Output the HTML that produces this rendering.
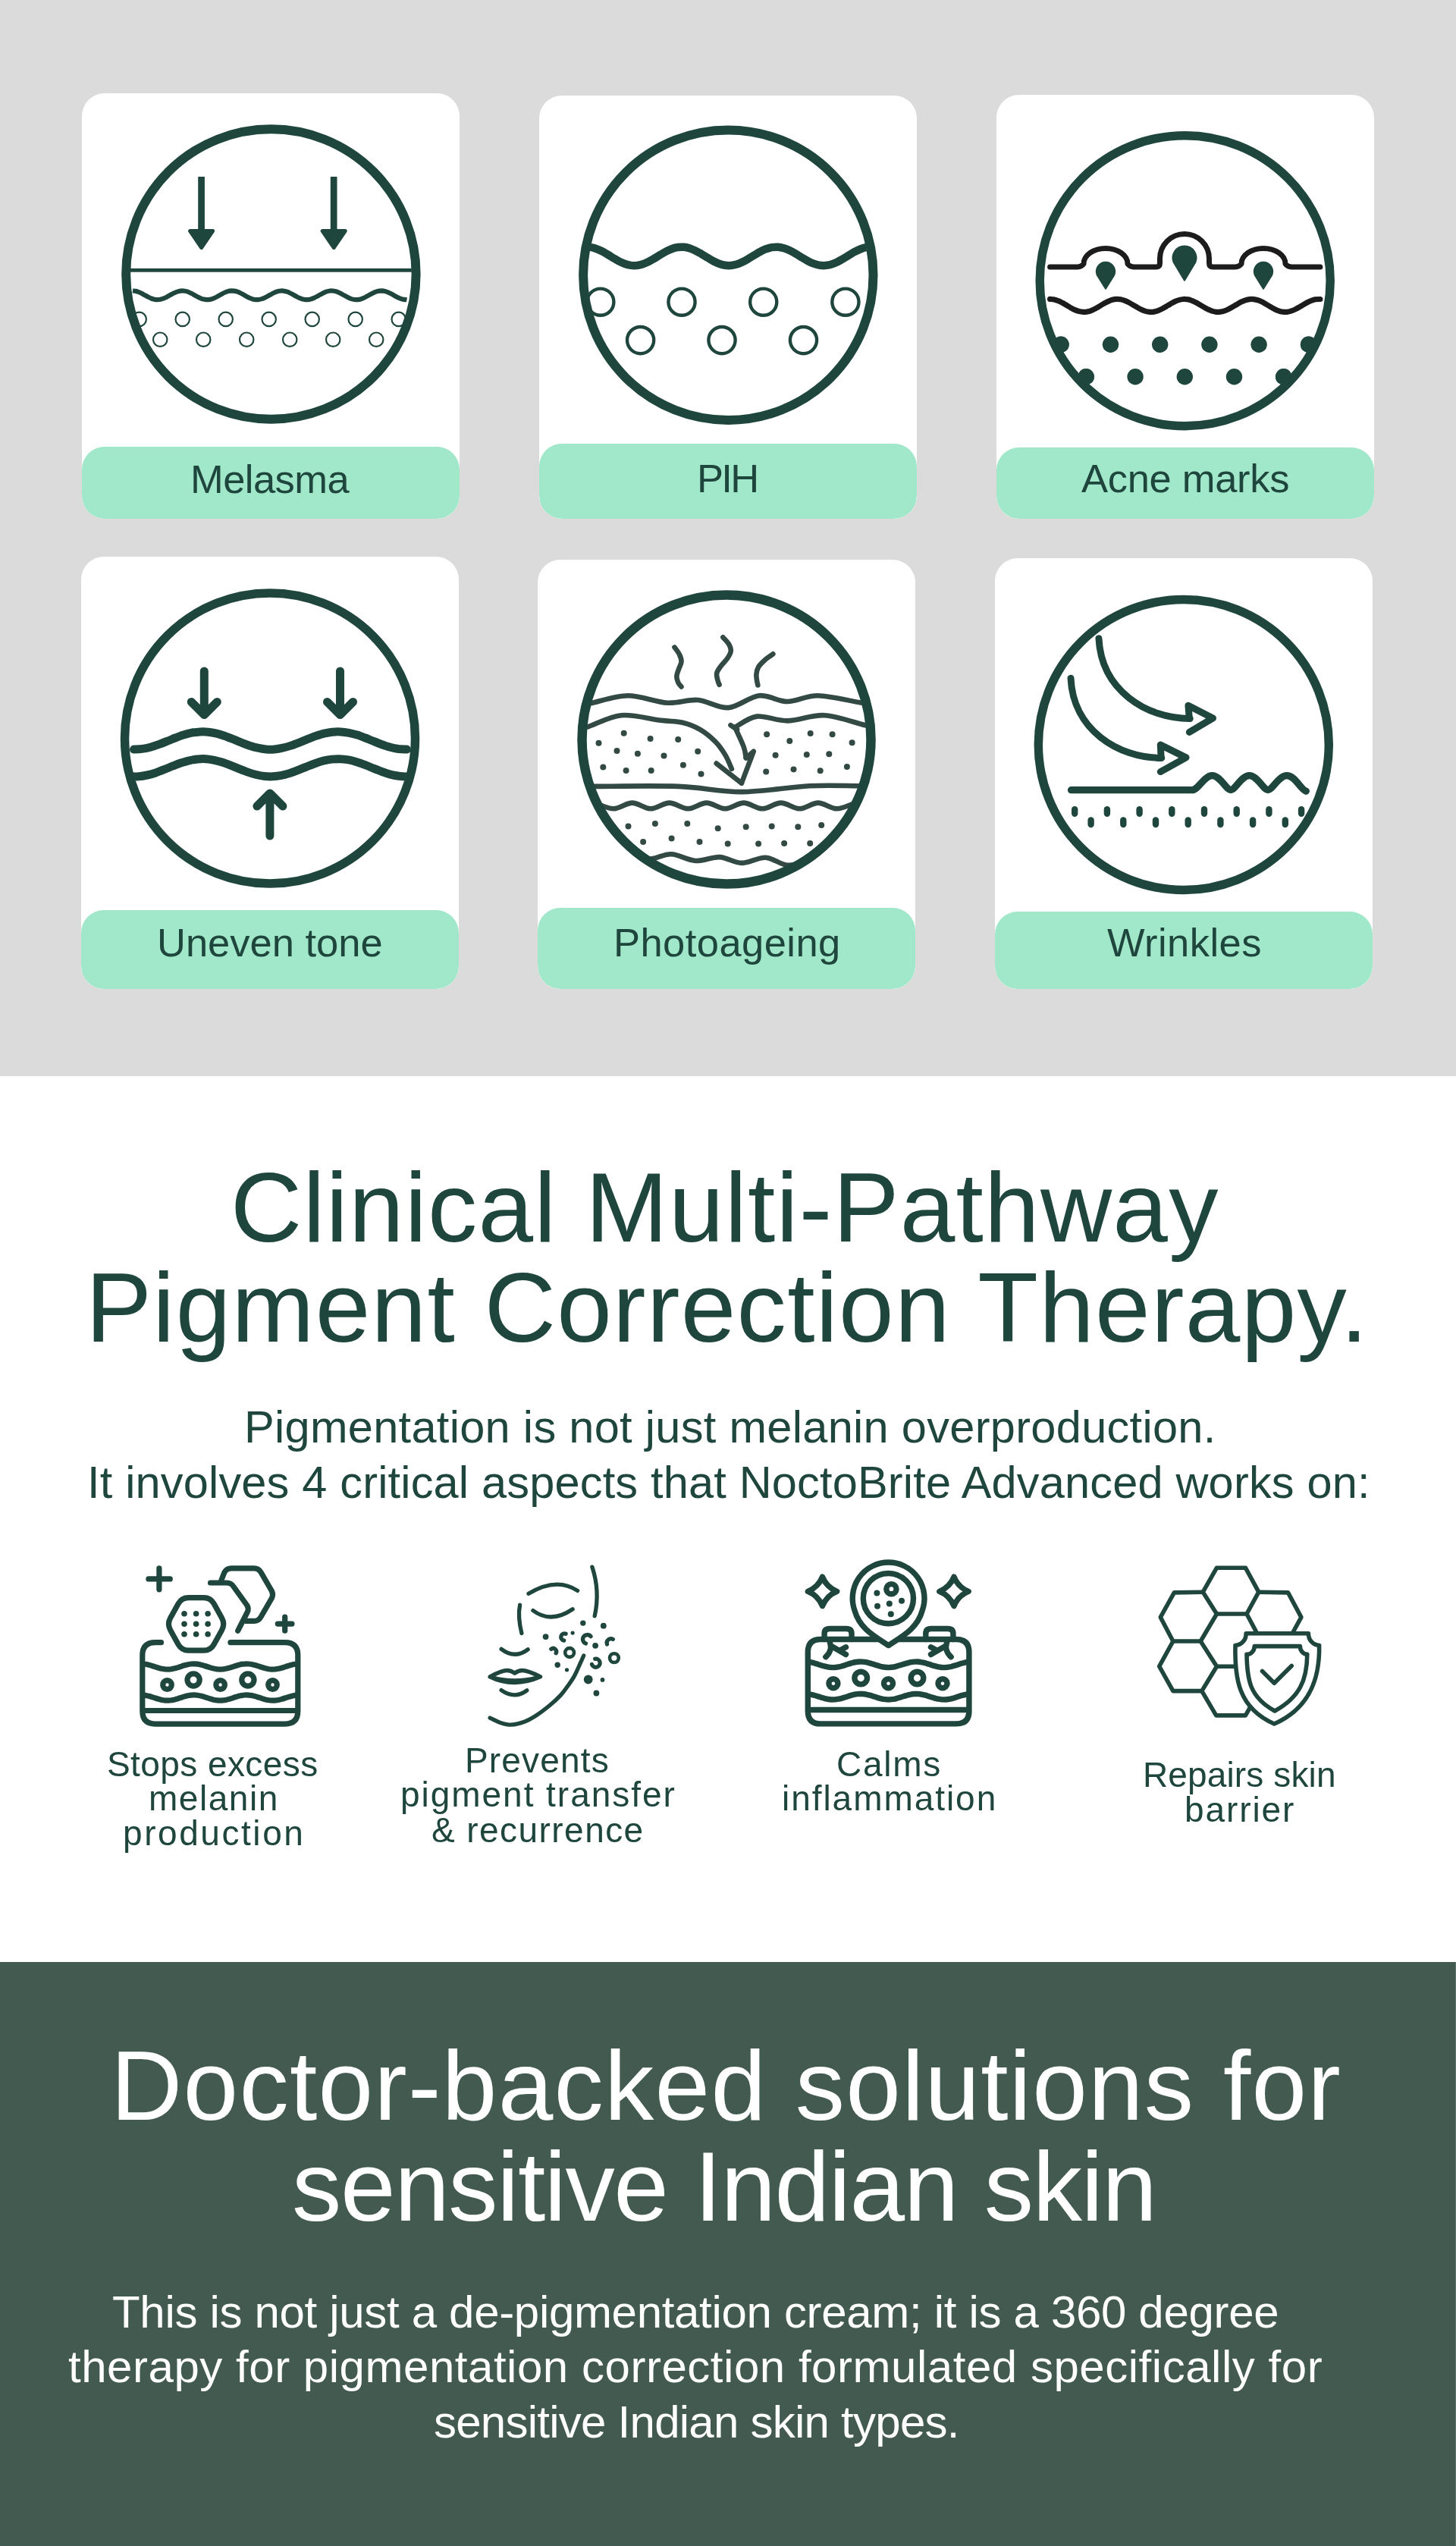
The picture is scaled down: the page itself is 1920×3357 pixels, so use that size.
<!DOCTYPE html>
<html><head><meta charset="utf-8"><style>
html,body{margin:0;padding:0;}
body{width:1920px;height:3357px;position:relative;overflow:hidden;background:#fff;font-family:"Liberation Sans",sans-serif;}
.sec{position:absolute;left:0;width:1920px;}
.card{position:absolute;background:#fff;border-radius:30px;overflow:hidden;}
.lab{position:absolute;left:0;right:0;bottom:0;background:#a1e7c9;border-radius:30px;}
.t{position:absolute;white-space:nowrap;line-height:1;will-change:transform;}
svg{position:absolute;left:0;top:0;}
</style></head><body>

<div class="sec" style="top:0;height:1419px;background:#dbdbdb"></div>
<div class="card" style="left:108px;top:123px;width:498px;height:561px"><div class="lab" style="height:95px"></div></div>
<div class="card" style="left:711px;top:126px;width:498px;height:558px"><div class="lab" style="height:99px"></div></div>
<div class="card" style="left:1314px;top:125px;width:498px;height:559px"><div class="lab" style="height:94px"></div></div>
<div class="card" style="left:107px;top:734px;width:498px;height:570px"><div class="lab" style="height:104px"></div></div>
<div class="card" style="left:709px;top:738px;width:498px;height:566px"><div class="lab" style="height:107px"></div></div>
<div class="card" style="left:1312px;top:736px;width:498px;height:568px"><div class="lab" style="height:102px"></div></div>
<div class="sec" style="top:2587px;height:770px;background:#435a51"></div>
<div class="sec" style="top:2587px;height:770px;left:1919px;width:1px;background:#5f7670"></div>
<div class="t" style="left:251.1px;top:605.6px;font-size:52.5px;letter-spacing:-0.56px;color:#1f463d">Melasma</div>
<div class="t" style="left:918.7px;top:605.1px;font-size:52.5px;letter-spacing:-2.71px;color:#1f463d">PIH</div>
<div class="t" style="left:1426.4px;top:605.2px;font-size:52.5px;letter-spacing:-0.30px;color:#1f463d">Acne marks</div>
<div class="t" style="left:206.8px;top:1217.3px;font-size:52.5px;letter-spacing:-0.01px;color:#1f463d">Uneven tone</div>
<div class="t" style="left:808.5px;top:1217.3px;font-size:52.5px;letter-spacing:0.44px;color:#1f463d">Photoageing</div>
<div class="t" style="left:1459.8px;top:1217.2px;font-size:52.5px;letter-spacing:0.45px;color:#1f463d">Wrinkles</div>
<div class="t" style="left:303.7px;top:1526.6px;font-size:130.5px;letter-spacing:1.24px;color:#1f463d">Clinical Multi-Pathway</div>
<div class="t" style="left:112.5px;top:1659.1px;font-size:130.5px;letter-spacing:1.33px;color:#1f463d">Pigment Correction Therapy.</div>
<div class="t" style="left:322.2px;top:1852.3px;font-size:59.5px;letter-spacing:0.31px;color:#1f463d">Pigmentation is not just melanin overproduction.</div>
<div class="t" style="left:114.7px;top:1925.1px;font-size:59.5px;letter-spacing:0.18px;color:#1f463d">It involves 4 critical aspects that NoctoBrite Advanced works on:</div>
<div class="t" style="left:141.2px;top:2302.5px;font-size:46px;letter-spacing:0.42px;color:#1f463d">Stops excess</div>
<div class="t" style="left:195.8px;top:2348.3px;font-size:46px;letter-spacing:1.53px;color:#1f463d">melanin</div>
<div class="t" style="left:161.7px;top:2393.9px;font-size:46px;letter-spacing:2.56px;color:#1f463d">production</div>
<div class="t" style="left:613.4px;top:2297.6px;font-size:46px;letter-spacing:1.18px;color:#1f463d">Prevents</div>
<div class="t" style="left:527.8px;top:2342.9px;font-size:46px;letter-spacing:1.96px;color:#1f463d">pigment transfer</div>
<div class="t" style="left:569px;top:2389.6px;font-size:46px;letter-spacing:1.44px;color:#1f463d">&amp; recurrence</div>
<div class="t" style="left:1102.7px;top:2302.5px;font-size:46px;letter-spacing:1.73px;color:#1f463d">Calms</div>
<div class="t" style="left:1030.6px;top:2348.3px;font-size:46px;letter-spacing:1.95px;color:#1f463d">inflammation</div>
<div class="t" style="left:1507px;top:2317.4px;font-size:46px;letter-spacing:0.13px;color:#1f463d">Repairs skin</div>
<div class="t" style="left:1562.2px;top:2362.9px;font-size:46px;letter-spacing:1.91px;color:#1f463d">barrier</div>
<div class="t" style="left:145.6px;top:2685.1px;font-size:130.5px;letter-spacing:1.28px;color:#fff">Doctor-backed solutions for</div>
<div class="t" style="left:385.4px;top:2817.6px;font-size:130.5px;letter-spacing:-1.35px;color:#fff">sensitive Indian skin</div>
<div class="t" style="left:147.5px;top:3018.5px;font-size:60px;letter-spacing:-0.32px;color:#fff">This is not just a de-pigmentation cream; it is a 360 degree</div>
<div class="t" style="left:90.2px;top:3091.1px;font-size:60px;letter-spacing:0.53px;color:#fff">therapy for pigmentation correction formulated specifically for</div>
<div class="t" style="left:571.5px;top:3164px;font-size:60px;letter-spacing:-0.75px;color:#fff">sensitive Indian skin types.</div>
<svg width="1920" height="3357" viewBox="0 0 1920 3357">
<clipPath id="cc1"><circle cx="357.4" cy="361.5" r="185.7"/></clipPath><g clip-path="url(#cc1)"><rect x="150" y="353.9" width="420" height="4.8" fill="#1f463d"/><rect x="261.2" y="233" width="8.7" height="72" fill="#1f463d"/><path d="M250.6,304.5 L280.6,304.5 L265.6,326.5 Z" fill="#1f463d" stroke="#1f463d" stroke-width="5" stroke-linecap="round" stroke-linejoin="round"/><rect x="435.8" y="233" width="8.7" height="72" fill="#1f463d"/><path d="M425.2,304.5 L455.2,304.5 L440.2,326.5 Z" fill="#1f463d" stroke="#1f463d" stroke-width="5" stroke-linecap="round" stroke-linejoin="round"/><path d="M175,383.4C175.7,383.5 177.7,383.6 179.1,383.9C180.4,384.2 181.8,384.6 183.1,385.2C184.5,385.7 185.8,386.4 187.2,387.1C188.5,387.8 189.9,388.6 191.2,389.3C192.6,390.1 194,390.9 195.3,391.6C196.7,392.3 198,392.9 199.4,393.5C200.7,394 202.1,394.4 203.4,394.7C204.8,395 206.1,395.2 207.5,395.2C208.8,395.2 210.2,395.1 211.6,394.8C212.9,394.5 214.3,394.1 215.6,393.5C217,393 218.3,392.4 219.7,391.7C221,391 222.4,390.2 223.7,389.4C225.1,388.7 226.4,387.9 227.8,387.2C229.2,386.5 230.5,385.8 231.9,385.3C233.2,384.7 234.6,384.2 235.9,383.9C237.3,383.6 238.6,383.4 240,383.4C241.3,383.4 242.7,383.5 244.1,383.8C245.4,384 246.8,384.4 248.1,384.9C249.5,385.4 250.8,386.1 252.2,386.8C253.5,387.4 254.9,388.2 256.2,389C257.6,389.7 258.9,390.5 260.3,391.2C261.7,391.9 263,392.6 264.4,393.2C265.7,393.8 267.1,394.3 268.4,394.6C269.8,394.9 271.1,395.1 272.5,395.2C273.8,395.2 275.2,395.1 276.5,394.9C277.9,394.7 279.3,394.3 280.6,393.8C282,393.3 283.3,392.6 284.7,392C286,391.3 287.4,390.5 288.7,389.8C290.1,389 291.4,388.2 292.8,387.5C294.1,386.8 295.5,386.1 296.9,385.5C298.2,384.9 299.6,384.4 300.9,384.1C302.3,383.7 303.6,383.5 305,383.4C306.3,383.4 307.7,383.4 309,383.6C310.4,383.9 311.7,384.2 313.1,384.7C314.5,385.2 315.8,385.8 317.2,386.5C318.5,387.1 319.9,387.9 321.2,388.6C322.6,389.4 323.9,390.2 325.3,390.9C326.6,391.6 328,392.4 329.3,392.9C330.7,393.5 332.1,394.1 333.4,394.4C334.8,394.8 336.1,395.1 337.5,395.2C338.8,395.2 340.2,395.2 341.5,395C342.9,394.8 344.2,394.4 345.6,394C346.9,393.5 348.3,392.9 349.7,392.3C351,391.6 352.4,390.9 353.7,390.1C355.1,389.4 356.4,388.6 357.8,387.9C359.1,387.1 360.5,386.4 361.8,385.8C363.2,385.2 364.6,384.6 365.9,384.3C367.3,383.9 368.6,383.6 370,383.5C371.3,383.4 372.7,383.4 374,383.6C375.4,383.7 376.7,384.1 378.1,384.5C379.4,384.9 380.8,385.5 382.2,386.2C383.5,386.8 384.9,387.6 386.2,388.3C387.6,389 388.9,389.8 390.3,390.6C391.6,391.3 393,392.1 394.3,392.7C395.7,393.3 397,393.8 398.4,394.3C399.8,394.7 401.1,395 402.5,395.1C403.8,395.2 405.2,395.2 406.5,395.1C407.9,394.9 409.2,394.6 410.6,394.2C411.9,393.8 413.3,393.2 414.6,392.6C416,392 417.4,391.2 418.7,390.5C420.1,389.7 421.4,388.9 422.8,388.2C424.1,387.5 425.5,386.7 426.8,386.1C428.2,385.5 429.5,384.9 430.9,384.4C432.2,384 433.6,383.7 435,383.5C436.3,383.4 437.7,383.4 439,383.5C440.4,383.6 441.7,383.9 443.1,384.3C444.4,384.7 445.8,385.3 447.1,385.9C448.5,386.5 449.8,387.2 451.2,388C452.6,388.7 453.9,389.5 455.3,390.2C456.6,391 458,391.7 459.3,392.4C460.7,393 462,393.6 463.4,394.1C464.7,394.5 466.1,394.8 467.4,395C468.8,395.2 470.2,395.2 471.5,395.1C472.9,395 474.2,394.8 475.6,394.4C476.9,394 478.3,393.5 479.6,392.9C481,392.3 482.3,391.5 483.7,390.8C485.1,390.1 486.4,389.3 487.8,388.5C489.1,387.8 490.5,387 491.8,386.4C493.2,385.7 494.5,385.1 495.9,384.6C497.2,384.2 498.6,383.8 499.9,383.6C501.3,383.4 502.7,383.4 504,383.4C505.4,383.5 506.7,383.8 508.1,384.1C509.4,384.5 510.8,385 512.1,385.6C513.5,386.2 514.8,386.9 516.2,387.6C517.5,388.3 518.9,389.2 520.3,389.9C521.6,390.6 523,391.4 524.3,392.1C525.7,392.7 527,393.4 528.4,393.8C529.7,394.3 531.1,394.7 532.4,394.9C533.8,395.2 535.8,395.1 536.5,395.2" fill="none" stroke="#1f463d" stroke-width="6.2" stroke-linecap="butt" stroke-linejoin="round"/><circle cx="183.7" cy="420.9" r="9.2" fill="none" stroke="#1f463d" stroke-width="2.2"/><circle cx="240.7" cy="420.9" r="9.2" fill="none" stroke="#1f463d" stroke-width="2.2"/><circle cx="297.7" cy="420.9" r="9.2" fill="none" stroke="#1f463d" stroke-width="2.2"/><circle cx="354.7" cy="420.9" r="9.2" fill="none" stroke="#1f463d" stroke-width="2.2"/><circle cx="411.7" cy="420.9" r="9.2" fill="none" stroke="#1f463d" stroke-width="2.2"/><circle cx="468.7" cy="420.9" r="9.2" fill="none" stroke="#1f463d" stroke-width="2.2"/><circle cx="525.7" cy="420.9" r="9.2" fill="none" stroke="#1f463d" stroke-width="2.2"/><circle cx="211.2" cy="447.7" r="9.2" fill="none" stroke="#1f463d" stroke-width="2.2"/><circle cx="268.2" cy="447.7" r="9.2" fill="none" stroke="#1f463d" stroke-width="2.2"/><circle cx="325.2" cy="447.7" r="9.2" fill="none" stroke="#1f463d" stroke-width="2.2"/><circle cx="382.2" cy="447.7" r="9.2" fill="none" stroke="#1f463d" stroke-width="2.2"/><circle cx="439.2" cy="447.7" r="9.2" fill="none" stroke="#1f463d" stroke-width="2.2"/><circle cx="496.2" cy="447.7" r="9.2" fill="none" stroke="#1f463d" stroke-width="2.2"/></g><circle cx="357.4" cy="361.5" r="191.2" fill="none" stroke="#1f463d" stroke-width="12"/><clipPath id="cc2"><circle cx="960.3" cy="362.7" r="185.7"/></clipPath><g clip-path="url(#cc2)"><path d="M770,325.9C771.3,325.9 775.2,325.6 777.8,325.9C780.3,326.2 782.9,326.8 785.5,327.7C788.1,328.5 790.7,329.7 793.3,331C795.9,332.3 798.4,333.9 801,335.4C803.6,336.9 806.2,338.6 808.8,340.2C811.4,341.7 813.9,343.3 816.5,344.6C819.1,345.9 821.7,347.1 824.3,348C826.9,348.9 829.5,349.5 832,349.9C834.6,350.2 837.2,350.2 839.8,350C842.4,349.7 845,349.1 847.6,348.2C850.1,347.4 852.7,346.2 855.3,345C857.9,343.7 860.5,342.1 863.1,340.6C865.6,339.1 868.2,337.4 870.8,335.9C873.4,334.3 876,332.7 878.6,331.4C881.2,330.1 883.7,328.9 886.3,328C888.9,327 891.5,326.3 894.1,326C896.7,325.6 899.3,325.6 901.8,325.8C904.4,326 907,326.6 909.6,327.4C912.2,328.3 914.8,329.4 917.3,330.7C919.9,331.9 922.5,333.5 925.1,335C927.7,336.5 930.3,338.2 932.9,339.7C935.4,341.3 938,342.9 940.6,344.2C943.2,345.5 945.8,346.8 948.4,347.7C951,348.6 953.5,349.4 956.1,349.8C958.7,350.2 961.3,350.2 963.9,350C966.5,349.8 969,349.3 971.6,348.5C974.2,347.7 976.8,346.6 979.4,345.3C982,344.1 984.6,342.5 987.1,341C989.7,339.5 992.3,337.8 994.9,336.3C997.5,334.8 1000.1,333.1 1002.7,331.8C1005.2,330.5 1007.8,329.2 1010.4,328.2C1013,327.3 1015.6,326.5 1018.2,326.1C1020.7,325.7 1023.3,325.6 1025.9,325.7C1028.5,325.9 1031.1,326.5 1033.7,327.2C1036.3,328 1038.8,329.1 1041.4,330.3C1044,331.5 1046.6,333 1049.2,334.5C1051.8,336 1054.4,337.7 1056.9,339.3C1059.5,340.8 1062.1,342.4 1064.7,343.8C1067.3,345.2 1069.9,346.5 1072.4,347.4C1075,348.4 1077.6,349.2 1080.2,349.6C1082.8,350.1 1085.4,350.2 1088,350.1C1090.5,349.9 1093.1,349.4 1095.7,348.7C1098.3,347.9 1100.9,346.9 1103.5,345.7C1106.1,344.5 1108.6,343 1111.2,341.5C1113.8,340 1116.4,338.3 1119,336.7C1121.6,335.2 1124.1,333.6 1126.7,332.2C1129.3,330.8 1131.9,329.5 1134.5,328.5C1137.1,327.5 1139.7,326.7 1142.2,326.2C1144.8,325.7 1148.7,325.8 1150,325.7" fill="none" stroke="#1f463d" stroke-width="10.5" stroke-linecap="butt" stroke-linejoin="round"/><circle cx="791.8" cy="398.2" r="17.6" fill="none" stroke="#1f463d" stroke-width="4.4"/><circle cx="899" cy="398.2" r="17.6" fill="none" stroke="#1f463d" stroke-width="4.4"/><circle cx="1006.7" cy="398.2" r="17.6" fill="none" stroke="#1f463d" stroke-width="4.4"/><circle cx="1114.9" cy="398.2" r="17.6" fill="none" stroke="#1f463d" stroke-width="4.4"/><circle cx="844.6" cy="448.6" r="17.6" fill="none" stroke="#1f463d" stroke-width="4.4"/><circle cx="952" cy="448.6" r="17.6" fill="none" stroke="#1f463d" stroke-width="4.4"/><circle cx="1059.5" cy="448.6" r="17.6" fill="none" stroke="#1f463d" stroke-width="4.4"/></g><circle cx="960.3" cy="362.7" r="191.2" fill="none" stroke="#1f463d" stroke-width="12"/><clipPath id="cc3"><circle cx="1562.7" cy="370.2" r="186.2"/></clipPath><g clip-path="url(#cc3)"><path d="M1384.6,351.9 L1421,351.9 Q1426,351.9 1429,347.9 A29,20.5 0 0 1 1487,347.9 Q1490,351.9 1495,351.9 L1524.5,351.9 Q1529.5,351.9 1529.5,346.9 L1529.5,340.9 A32.5,32.5 0 0 1 1594.5,340.9 L1594.5,346.9 Q1594.5,351.9 1599.5,351.9 L1629,351.9 Q1634,351.9 1637,347.9 A29,20.5 0 0 1 1695,347.9 Q1698,351.9 1703,351.9 L1740.9,351.9" fill="none" stroke="#1c1c1c" stroke-width="7" stroke-linecap="round" stroke-linejoin="round"/><path d="M1446.6,362.4 A12.2,12.2 0 1 1 1469.4,362.4 L1458,380.6 Z" fill="#1f463d" stroke="#1f463d" stroke-width="2" stroke-linejoin="round"/><path d="M1547.6,345.7 A15.5,15.5 0 1 1 1576.4,345.7 L1562,369.7 Z" fill="#1f463d" stroke="#1f463d" stroke-width="2" stroke-linejoin="round"/><path d="M1654.6,362.4 A12.2,12.2 0 1 1 1677.4,362.4 L1666,380.6 Z" fill="#1f463d" stroke="#1f463d" stroke-width="2" stroke-linejoin="round"/><path d="M1384.6,394.4C1385.5,394.5 1388.3,394.6 1390.1,394.9C1391.9,395.3 1393.7,395.9 1395.6,396.7C1397.4,397.4 1399.2,398.4 1401,399.3C1402.9,400.3 1404.7,401.5 1406.5,402.5C1408.4,403.6 1410.2,404.8 1412,405.8C1413.8,406.8 1415.7,407.8 1417.5,408.6C1419.3,409.4 1421.1,410.1 1423,410.6C1424.8,411 1426.6,411.3 1428.5,411.4C1430.3,411.4 1432.1,411.3 1433.9,410.9C1435.8,410.6 1437.6,410 1439.4,409.3C1441.2,408.6 1443.1,407.6 1444.9,406.7C1446.7,405.7 1448.6,404.6 1450.4,403.5C1452.2,402.4 1454,401.3 1455.9,400.2C1457.7,399.2 1459.5,398.2 1461.3,397.4C1463.2,396.6 1465,395.8 1466.8,395.3C1468.7,394.8 1470.5,394.5 1472.3,394.4C1474.1,394.3 1476,394.5 1477.8,394.8C1479.6,395.1 1481.4,395.7 1483.3,396.4C1485.1,397.1 1486.9,398 1488.7,398.9C1490.6,399.9 1492.4,401 1494.2,402.1C1496.1,403.1 1497.9,404.3 1499.7,405.3C1501.5,406.4 1503.4,407.4 1505.2,408.2C1507,409.1 1508.8,409.8 1510.7,410.4C1512.5,410.9 1514.3,411.2 1516.2,411.3C1518,411.5 1519.8,411.4 1521.6,411.1C1523.5,410.8 1525.3,410.3 1527.1,409.6C1528.9,408.9 1530.8,408 1532.6,407.1C1534.4,406.2 1536.3,405 1538.1,404C1539.9,402.9 1541.7,401.7 1543.6,400.7C1545.4,399.7 1547.2,398.6 1549,397.7C1550.9,396.9 1552.7,396.1 1554.5,395.6C1556.4,395 1558.2,394.6 1560,394.5C1561.8,394.3 1563.7,394.4 1565.5,394.7C1567.3,394.9 1569.1,395.4 1571,396.1C1572.8,396.7 1574.6,397.6 1576.5,398.5C1578.3,399.4 1580.1,400.5 1581.9,401.6C1583.8,402.6 1585.6,403.8 1587.4,404.9C1589.2,405.9 1591.1,407 1592.9,407.9C1594.7,408.7 1596.6,409.5 1598.4,410.1C1600.2,410.7 1602,411.1 1603.9,411.3C1605.7,411.5 1607.5,411.4 1609.3,411.2C1611.2,411 1613,410.5 1614.8,409.9C1616.7,409.3 1618.5,408.4 1620.3,407.5C1622.1,406.6 1624,405.5 1625.8,404.5C1627.6,403.4 1629.4,402.2 1631.3,401.2C1633.1,400.1 1634.9,399 1636.8,398.1C1638.6,397.2 1640.4,396.4 1642.2,395.8C1644.1,395.2 1645.9,394.8 1647.7,394.6C1649.5,394.4 1651.4,394.4 1653.2,394.6C1655,394.8 1656.8,395.2 1658.7,395.8C1660.5,396.4 1662.3,397.2 1664.2,398.1C1666,399 1667.8,400.1 1669.6,401.1C1671.5,402.2 1673.3,403.3 1675.1,404.4C1676.9,405.5 1678.8,406.6 1680.6,407.5C1682.4,408.4 1684.3,409.2 1686.1,409.8C1687.9,410.5 1689.7,410.9 1691.6,411.2C1693.4,411.4 1695.2,411.5 1697,411.3C1698.9,411.1 1700.7,410.7 1702.5,410.1C1704.4,409.6 1706.2,408.8 1708,407.9C1709.8,407 1711.7,406 1713.5,404.9C1715.3,403.9 1717.1,402.7 1719,401.6C1720.8,400.6 1722.6,399.5 1724.5,398.5C1726.3,397.6 1728.1,396.7 1729.9,396.1C1731.8,395.5 1733.6,394.9 1735.4,394.7C1737.2,394.4 1740,394.5 1740.9,394.5" fill="none" stroke="#1c1c1c" stroke-width="7.2" stroke-linecap="round" stroke-linejoin="round"/><circle cx="1399" cy="454.3" r="10.7" fill="#1f463d"/><circle cx="1464.5" cy="454.3" r="10.7" fill="#1f463d"/><circle cx="1529.7" cy="454.3" r="10.7" fill="#1f463d"/><circle cx="1594.9" cy="454.3" r="10.7" fill="#1f463d"/><circle cx="1660.1" cy="454.3" r="10.7" fill="#1f463d"/><circle cx="1725.6" cy="454.3" r="10.7" fill="#1f463d"/><circle cx="1432.2" cy="496.7" r="10.7" fill="#1f463d"/><circle cx="1497.1" cy="496.7" r="10.7" fill="#1f463d"/><circle cx="1562.3" cy="496.7" r="10.7" fill="#1f463d"/><circle cx="1627.5" cy="496.7" r="10.7" fill="#1f463d"/><circle cx="1692.7" cy="496.7" r="10.7" fill="#1f463d"/></g><circle cx="1562.7" cy="370.2" r="191.5" fill="none" stroke="#1f463d" stroke-width="11.5"/><circle cx="1399" cy="454.3" r="10.7" fill="#1f463d"/><circle cx="1725.6" cy="454.3" r="10.7" fill="#1f463d"/><circle cx="1432.2" cy="496.7" r="10.7" fill="#1f463d"/><circle cx="1692.7" cy="496.7" r="10.7" fill="#1f463d"/><clipPath id="cc4"><circle cx="356" cy="973.5" r="186.2"/></clipPath><g clip-path="url(#cc4)"><path d="M269.3,885 V942.5 M252.3,925.5 L269.3,942.5 L286.3,925.5" fill="none" stroke="#1f463d" stroke-width="11" stroke-linecap="round" stroke-linejoin="round"/><path d="M448.5,885 V942.5 M431.5,925.5 L448.5,942.5 L465.5,925.5" fill="none" stroke="#1f463d" stroke-width="11" stroke-linecap="round" stroke-linejoin="round"/><path d="M355.9,1102 V1046 M338.9,1063 L355.9,1046 L372.9,1063" fill="none" stroke="#1f463d" stroke-width="11" stroke-linecap="round" stroke-linejoin="round"/><path d="M176.5,988.1C178.3,988 183.8,987.9 187.4,987.4C191,987 194.7,986.2 198.3,985.2C201.9,984.2 205.6,983 209.2,981.7C212.9,980.4 216.5,978.9 220.1,977.4C223.8,976 227.4,974.4 231,973C234.7,971.6 238.3,970.2 241.9,969.1C245.6,967.9 249.2,966.9 252.8,966.2C256.5,965.5 260.1,965.1 263.7,964.9C267.4,964.7 271,964.8 274.7,965.2C278.3,965.6 281.9,966.3 285.6,967.2C289.2,968.1 292.8,969.2 296.5,970.5C300.1,971.7 303.7,973.2 307.4,974.7C311,976.1 314.6,977.7 318.3,979.1C321.9,980.5 325.5,982 329.2,983.2C332.8,984.3 336.5,985.4 340.1,986.2C343.7,987 347.4,987.6 351,987.9C354.6,988.2 358.3,988.2 361.9,987.9C365.5,987.6 369.2,987 372.8,986.2C376.4,985.4 380.1,984.3 383.7,983.1C387.4,981.9 391,980.5 394.6,979.1C398.3,977.6 401.9,976.1 405.5,974.6C409.2,973.2 412.8,971.7 416.4,970.4C420.1,969.2 423.7,968 427.3,967.1C431,966.3 434.6,965.6 438.2,965.2C441.9,964.8 445.5,964.7 449.2,964.9C452.8,965.1 456.4,965.6 460.1,966.3C463.7,967 467.3,968 471,969.1C474.6,970.2 478.2,971.6 481.9,973C485.5,974.4 489.1,976 492.8,977.4C496.4,978.9 500,980.4 503.7,981.7C507.3,983 511,984.3 514.6,985.2C518.2,986.2 521.9,987 525.5,987.5C529.1,987.9 534.6,988 536.4,988.1" fill="none" stroke="#1f463d" stroke-width="11" stroke-linecap="round" stroke-linejoin="round"/><path d="M150,1018.8C151.8,1019.3 157.4,1021.1 161.1,1021.9C164.7,1022.8 168.4,1023.4 172.1,1023.7C175.8,1024 179.5,1024 183.2,1023.7C186.8,1023.4 190.5,1022.8 194.2,1022C197.9,1021.2 201.6,1020.1 205.3,1018.9C208.9,1017.7 212.6,1016.2 216.3,1014.7C220,1013.3 223.7,1011.7 227.4,1010.2C231.1,1008.8 234.7,1007.3 238.4,1006C242.1,1004.8 245.8,1003.6 249.5,1002.8C253.2,1001.9 256.8,1001.2 260.5,1000.9C264.2,1000.6 267.9,1000.5 271.6,1000.7C275.3,1001 278.9,1001.5 282.6,1002.3C286.3,1003.1 290,1004.1 293.7,1005.3C297.4,1006.5 301.1,1008 304.7,1009.4C308.4,1010.8 312.1,1012.4 315.8,1013.9C319.5,1015.4 323.2,1016.9 326.8,1018.1C330.5,1019.4 334.2,1020.6 337.9,1021.5C341.6,1022.4 345.3,1023.1 348.9,1023.5C352.6,1023.9 356.3,1024 360,1023.8C363.7,1023.6 367.4,1023.1 371.1,1022.4C374.7,1021.7 378.4,1020.6 382.1,1019.5C385.8,1018.3 389.5,1016.9 393.2,1015.4C396.8,1014 400.5,1012.4 404.2,1011C407.9,1009.5 411.6,1008 415.3,1006.7C418.9,1005.4 422.6,1004.1 426.3,1003.2C430,1002.3 433.7,1001.5 437.4,1001.1C441.1,1000.7 444.7,1000.5 448.4,1000.7C452.1,1000.8 455.8,1001.3 459.5,1001.9C463.2,1002.6 466.8,1003.6 470.5,1004.8C474.2,1005.9 477.9,1007.3 481.6,1008.7C485.3,1010.1 488.9,1011.7 492.6,1013.2C496.3,1014.7 500,1016.2 503.7,1017.5C507.4,1018.8 511.1,1020.1 514.7,1021.1C518.4,1022 522.1,1022.8 525.8,1023.3C529.5,1023.8 533.2,1024 536.8,1023.9C540.5,1023.8 544.2,1023.4 547.9,1022.7C551.6,1022.1 555.3,1021.1 558.9,1020C562.6,1018.9 568.2,1016.8 570,1016.1" fill="none" stroke="#1f463d" stroke-width="11" stroke-linecap="round" stroke-linejoin="round"/></g><circle cx="356" cy="973.5" r="191.5" fill="none" stroke="#1f463d" stroke-width="11.5"/><clipPath id="cc5"><circle cx="958" cy="975" r="184.8"/></clipPath><g clip-path="url(#cc5)"><path d="M889.5,853.4C890.6,855 894.5,859.8 896,863C897.5,866.2 898.7,869.4 898.5,872.6C898.3,875.8 896,879 895,882.2C894,885.4 892.4,888.8 892.3,891.8C892.2,894.8 893.3,897.7 894.3,900C895.3,902.3 897.8,904.6 898.5,905.5" fill="none" stroke="#334a44" stroke-width="6.6" stroke-linecap="round" stroke-linejoin="round"/><path d="M953.4,840.3C954.7,841.8 959.3,846.1 961,849.2C962.7,852.3 964.1,855.6 963.7,858.8C963.4,862 961.1,865.3 958.9,868.5C956.7,871.7 953,874.9 950.7,878.1C948.4,881.3 945.9,884.5 945.2,887.7C944.5,890.9 945.9,894.8 946.5,897.3C947.1,899.8 948.2,901.9 948.6,902.8" fill="none" stroke="#334a44" stroke-width="6.6" stroke-linecap="round" stroke-linejoin="round"/><path d="M1019.3,862.3C1017.5,863.7 1011.6,867.6 1008.4,870.5C1005.2,873.4 1001.9,876.4 1000.1,879.5C998.3,882.6 997.7,886.1 997.4,889.1C997.1,892.1 997.8,894.9 998.1,897.3C998.4,899.7 999.2,902.5 999.4,903.5" fill="none" stroke="#334a44" stroke-width="6.6" stroke-linecap="round" stroke-linejoin="round"/><path d="M767.3,928.7C769.2,928.5 768.7,929.2 778.8,927.3C788.9,925.4 811.1,917.3 827.9,917.2C844.7,917.1 864.4,925.8 879.8,926.7C895.2,927.7 906.7,921.9 920.2,923C933.7,924 947.1,934 960.6,933.1C974,932.1 988,918.6 1001,917.2C1013.9,915.9 1025.5,925 1038.5,925C1051.4,925 1062.5,916.9 1078.8,917.2C1095.2,917.5 1124,925 1136.5,926.7C1149,928.4 1151,927.2 1153.8,927.3" fill="none" stroke="#334a44" stroke-width="6.6" stroke-linecap="round" stroke-linejoin="round"/><path d="M761.5,959C763.7,958.9 764.9,961.1 774.5,958.5C784.1,955.8 803.1,944.6 819.2,943.2C835.3,941.7 857.7,948.2 871.2,949.8C884.6,951.4 891.3,950.7 900,952.7C908.7,954.7 915.9,957.7 923.1,961.9C930.3,966.1 937.7,972.3 943.3,977.8C948.8,983.3 952.6,989.1 956.2,995.1C959.9,1001.1 963.5,1010.7 964.9,1013.8" fill="none" stroke="#334a44" stroke-width="6.6" stroke-linecap="round" stroke-linejoin="round"/><path d="M944.7,1006.6C950.2,1011 972.4,1028.3 977.9,1032.6" fill="none" stroke="#334a44" stroke-width="6.6" stroke-linecap="round" stroke-linejoin="round"/><path d="M1153.8,956.7C1151.7,956.6 1151.9,958.4 1140.9,956.2C1129.8,953.9 1104.6,944.1 1087.5,943.2C1070.4,942.2 1053.4,950.1 1038.5,950.4C1023.6,950.6 1009.6,943.2 998.1,944.6C986.5,946.1 974,956.6 969.2,959" fill="none" stroke="#334a44" stroke-width="6.6" stroke-linecap="round" stroke-linejoin="round"/><path d="M963.4594859664811,956.151960077307 L972.1132489110682,961.9211353736983" fill="none" stroke="#334a44" stroke-width="6.6" stroke-linecap="round" stroke-linejoin="round"/><path d="M969.2,959C971.2,963.4 978.4,978.3 980.8,985C983.2,991.7 983.2,997 983.7,999.4" fill="none" stroke="#334a44" stroke-width="6.6" stroke-linecap="round" stroke-linejoin="round"/><path d="M983.651599503851,999.4207748002423 L993.7476562725358,990.7670118556553 L977.8824242074595,1032.5935327544928" fill="none" stroke="#334a44" stroke-width="6.6" stroke-linecap="round" stroke-linejoin="round"/><path d="M767.3,1036.9C770,1036.9 762,1036.9 783.2,1036.9C804.3,1036.9 861.8,1035.7 894.2,1036.9C926.7,1038.1 949,1044.2 977.9,1044.1C1006.7,1044 1041.6,1037.6 1067.3,1036.3C1093,1035 1117.8,1036.3 1132.2,1036.3C1146.6,1036.3 1150.2,1036.3 1153.8,1036.3" fill="none" stroke="#334a44" stroke-width="6.6" stroke-linecap="round" stroke-linejoin="round"/><path d="M784.6,1058.6C788.7,1059.9 801,1066.3 809.1,1066.3C817.3,1066.3 825.5,1058.6 833.7,1058.6C841.8,1058.6 850,1066.3 858.2,1066.3C866.3,1066.3 874.5,1058.6 882.7,1058.6C890.9,1058.6 899,1066.3 907.2,1066.3C915.4,1066.3 923.6,1058.6 931.7,1058.6C939.9,1058.6 948.1,1066.3 956.2,1066.3C964.4,1066.3 972.6,1058.6 980.8,1058.6C988.9,1058.6 997.1,1066.3 1005.3,1066.3C1013.5,1066.3 1021.6,1058.6 1029.8,1058.6C1038,1058.6 1046.2,1066.3 1054.3,1066.3C1062.5,1066.3 1070.7,1058.6 1078.8,1058.6C1087,1058.6 1095.2,1066.3 1103.4,1066.3C1111.5,1066.3 1123.8,1059.9 1127.9,1058.6" fill="none" stroke="#334a44" stroke-width="6.6" stroke-linecap="round" stroke-linejoin="round"/><path d="M836.5,1135C840.6,1134.5 852.9,1133.6 861.1,1132.1C869.2,1130.7 876.2,1125.9 885.6,1126.3C895,1126.8 906.7,1134.4 917.3,1135C927.9,1135.6 938.9,1129.6 949,1130.1C959.1,1130.6 967.8,1137.8 977.9,1137.9C988,1138 999.5,1130.2 1009.6,1130.7C1019.7,1131.2 1028.8,1140 1038.5,1140.8C1048.1,1141.5 1062.5,1136 1067.3,1135" fill="none" stroke="#334a44" stroke-width="6.6" stroke-linecap="round" stroke-linejoin="round"/><circle cx="822.7" cy="966.8" r="4" fill="#334a44"/><circle cx="789.5" cy="979.8" r="4" fill="#334a44"/><circle cx="857.6" cy="974" r="4" fill="#334a44"/><circle cx="894.2" cy="974.9" r="4" fill="#334a44"/><circle cx="813.5" cy="989.9" r="4" fill="#334a44"/><circle cx="840.9" cy="993.7" r="4" fill="#334a44"/><circle cx="875.5" cy="996.5" r="4" fill="#334a44"/><circle cx="920.2" cy="990.8" r="4" fill="#334a44"/><circle cx="795.3" cy="1011.5" r="4" fill="#334a44"/><circle cx="825.6" cy="1015.9" r="4" fill="#334a44"/><circle cx="858.7" cy="1015.9" r="4" fill="#334a44"/><circle cx="900.9" cy="1008.7" r="4" fill="#334a44"/><circle cx="924.5" cy="1020.5" r="4" fill="#334a44"/><circle cx="1011.1" cy="968.3" r="4" fill="#334a44"/><circle cx="1068.7" cy="967.1" r="4" fill="#334a44"/><circle cx="1097.6" cy="968.3" r="4" fill="#334a44"/><circle cx="1041.3" cy="976.9" r="4" fill="#334a44"/><circle cx="1123.6" cy="979.2" r="4" fill="#334a44"/><circle cx="1022.6" cy="995.7" r="4" fill="#334a44"/><circle cx="1063.8" cy="995.1" r="4" fill="#334a44"/><circle cx="1093.3" cy="994.2" r="4" fill="#334a44"/><circle cx="1010.2" cy="1017.6" r="4" fill="#334a44"/><circle cx="1046.5" cy="1014.4" r="4" fill="#334a44"/><circle cx="1081.7" cy="1016.2" r="4" fill="#334a44"/><circle cx="1116.9" cy="1011" r="4" fill="#334a44"/><circle cx="828.5" cy="1089.4" r="4" fill="#334a44"/><circle cx="863.9" cy="1086" r="4" fill="#334a44"/><circle cx="906.3" cy="1086" r="4" fill="#334a44"/><circle cx="946.7" cy="1092.3" r="4" fill="#334a44"/><circle cx="983.7" cy="1090.3" r="4" fill="#334a44"/><circle cx="1017.7" cy="1089.4" r="4" fill="#334a44"/><circle cx="1052.3" cy="1090.3" r="4" fill="#334a44"/><circle cx="1083.2" cy="1088" r="4" fill="#334a44"/><circle cx="848.1" cy="1109.9" r="4" fill="#334a44"/><circle cx="885.6" cy="1105.6" r="4" fill="#334a44"/><circle cx="922.5" cy="1109.9" r="4" fill="#334a44"/><circle cx="959.7" cy="1112.5" r="4" fill="#334a44"/><circle cx="1000.1" cy="1112.5" r="4" fill="#334a44"/><circle cx="1034.1" cy="1111.9" r="4" fill="#334a44"/><circle cx="1068.2" cy="1111.9" r="4" fill="#334a44"/></g><circle cx="958" cy="975" r="190.5" fill="none" stroke="#1f463d" stroke-width="12.5"/><clipPath id="cc6"><circle cx="1560.8" cy="982" r="186.2"/></clipPath><g clip-path="url(#cc6)"><path d="M1448.9413563331123,841.633830443938 C1452.402861510947,909.9985577061759 1511.5369082989587,947.49819713272 1569.2286612628725,947.49819713272" fill="none" stroke="#1f463d" stroke-width="9" stroke-linecap="round" stroke-linejoin="round"/><path d="M1568.3632849684138,947.49819713272 L1566.9209911443158,930.1906712435457 L1599.5168315689273,946.9212796030807 L1568.3632849684138,965.3826405515332" fill="none" stroke="#1f463d" stroke-width="9" stroke-linecap="round" stroke-linejoin="round"/><path d="M1412.0186344362073,894.1333256410996 C1414.903222084403,961.9211353736983 1474.0372688724146,999.4207748002423 1531.7290218363285,999.4207748002423" fill="none" stroke="#1f463d" stroke-width="9" stroke-linecap="round" stroke-linejoin="round"/><path d="M1531.1521043066894,999.4207748002423 L1530.2867280122307,982.1132489110682 L1564.0364034961203,998.8438572706032 L1530.2867280122307,1017.5936769838752" fill="none" stroke="#1f463d" stroke-width="9" stroke-linecap="round" stroke-linejoin="round"/><path d="M1412.5,1041.7 L1572,1041.7 C1580,1041.7 1588,1022.7 1598.5,1022.7 C1609,1022.7 1617,1041.5 1623,1041.5 C1629,1041.5 1637,1022.7 1647.5,1022.7 C1658,1022.7 1666,1041.5 1672,1041.5 C1678,1041.5 1686,1022.7 1697,1022.7 C1708,1022.7 1715,1041 1722.3,1043.2" fill="none" stroke="#1f463d" stroke-width="9.3" stroke-linecap="round" stroke-linejoin="round"/><path d="M1417.2,1067.2 V1072.8" fill="none" stroke="#1f463d" stroke-width="8.4" stroke-linecap="round" stroke-linejoin="round"/><path d="M1459.9,1067.2 V1072.8" fill="none" stroke="#1f463d" stroke-width="8.4" stroke-linecap="round" stroke-linejoin="round"/><path d="M1502.6,1067.2 V1072.8" fill="none" stroke="#1f463d" stroke-width="8.4" stroke-linecap="round" stroke-linejoin="round"/><path d="M1545.3,1067.2 V1072.8" fill="none" stroke="#1f463d" stroke-width="8.4" stroke-linecap="round" stroke-linejoin="round"/><path d="M1588,1067.2 V1072.8" fill="none" stroke="#1f463d" stroke-width="8.4" stroke-linecap="round" stroke-linejoin="round"/><path d="M1630.7,1067.2 V1072.8" fill="none" stroke="#1f463d" stroke-width="8.4" stroke-linecap="round" stroke-linejoin="round"/><path d="M1673.4,1067.2 V1072.8" fill="none" stroke="#1f463d" stroke-width="8.4" stroke-linecap="round" stroke-linejoin="round"/><path d="M1716.1,1067.2 V1072.8" fill="none" stroke="#1f463d" stroke-width="8.4" stroke-linecap="round" stroke-linejoin="round"/><path d="M1438.6,1081.5 V1087.1" fill="none" stroke="#1f463d" stroke-width="8.4" stroke-linecap="round" stroke-linejoin="round"/><path d="M1481.3,1081.5 V1087.1" fill="none" stroke="#1f463d" stroke-width="8.4" stroke-linecap="round" stroke-linejoin="round"/><path d="M1524,1081.5 V1087.1" fill="none" stroke="#1f463d" stroke-width="8.4" stroke-linecap="round" stroke-linejoin="round"/><path d="M1566.7,1081.5 V1087.1" fill="none" stroke="#1f463d" stroke-width="8.4" stroke-linecap="round" stroke-linejoin="round"/><path d="M1609.4,1081.5 V1087.1" fill="none" stroke="#1f463d" stroke-width="8.4" stroke-linecap="round" stroke-linejoin="round"/><path d="M1652.1,1081.5 V1087.1" fill="none" stroke="#1f463d" stroke-width="8.4" stroke-linecap="round" stroke-linejoin="round"/><path d="M1694.8,1081.5 V1087.1" fill="none" stroke="#1f463d" stroke-width="8.4" stroke-linecap="round" stroke-linejoin="round"/></g><circle cx="1560.8" cy="982" r="191.5" fill="none" stroke="#1f463d" stroke-width="11.5"/>
<path d="M187.8,2182.7 Q187.8,2165.7 204.8,2165.7 L212.5,2165.7 M303.9,2165.7 L375.8,2165.7 Q392.8,2165.7 392.8,2182.7 L392.8,2256.1 Q392.8,2273.1 375.8,2273.1 L204.8,2273.1 Q187.8,2273.1 187.8,2256.1 L187.8,2182.7" fill="none" stroke="#1f463d" stroke-width="7.2" stroke-linecap="round" stroke-linejoin="round"/><path d="M187.8,2193.8C188.5,2193.9 190.6,2194.1 192.1,2194.3C193.5,2194.6 194.9,2194.9 196.3,2195.3C197.8,2195.6 199.2,2196.1 200.6,2196.5C202,2197 203.5,2197.5 204.9,2197.9C206.3,2198.4 207.7,2198.8 209.2,2199.2C210.6,2199.6 212,2200 213.4,2200.3C214.8,2200.6 216.3,2200.8 217.7,2201C219.1,2201.1 220.5,2201.1 222,2201.1C223.4,2201 224.8,2200.9 226.2,2200.7C227.7,2200.5 229.1,2200.1 230.5,2199.8C231.9,2199.4 233.4,2199 234.8,2198.6C236.2,2198.1 237.6,2197.6 239.1,2197.2C240.5,2196.7 241.9,2196.2 243.3,2195.8C244.7,2195.4 246.2,2195 247.6,2194.7C249,2194.4 250.4,2194.2 251.9,2194C253.3,2193.9 254.7,2193.8 256.1,2193.8C257.6,2193.8 259,2193.9 260.4,2194.1C261.8,2194.3 263.3,2194.6 264.7,2195C266.1,2195.3 267.5,2195.7 268.9,2196.1C270.4,2196.6 271.8,2197.1 273.2,2197.5C274.6,2198 276.1,2198.5 277.5,2198.9C278.9,2199.3 280.3,2199.7 281.8,2200.1C283.2,2200.4 284.6,2200.7 286,2200.8C287.5,2201 288.9,2201.1 290.3,2201.1C291.7,2201.1 293.1,2201 294.6,2200.8C296,2200.7 297.4,2200.4 298.8,2200.1C300.3,2199.8 301.7,2199.3 303.1,2198.9C304.5,2198.5 306,2198 307.4,2197.6C308.8,2197.1 310.2,2196.6 311.7,2196.2C313.1,2195.8 314.5,2195.3 315.9,2195C317.3,2194.6 318.8,2194.3 320.2,2194.2C321.6,2194 323,2193.8 324.5,2193.8C325.9,2193.8 327.3,2193.8 328.7,2194C330.2,2194.1 331.6,2194.4 333,2194.7C334.4,2195 335.9,2195.4 337.3,2195.8C338.7,2196.2 340.1,2196.7 341.6,2197.1C343,2197.6 344.4,2198.1 345.8,2198.5C347.2,2199 348.7,2199.4 350.1,2199.8C351.5,2200.1 352.9,2200.4 354.4,2200.7C355.8,2200.9 357.2,2201 358.6,2201.1C360.1,2201.1 361.5,2201.1 362.9,2201C364.3,2200.8 365.8,2200.6 367.2,2200.3C368.6,2200 370,2199.7 371.4,2199.3C372.9,2198.9 374.3,2198.4 375.7,2197.9C377.1,2197.5 378.6,2197 380,2196.5C381.4,2196.1 382.8,2195.7 384.3,2195.3C385.7,2194.9 387.1,2194.6 388.5,2194.3C390,2194.1 392.1,2193.9 392.8,2193.8" fill="none" stroke="#1f463d" stroke-width="7.2" stroke-linecap="butt" stroke-linejoin="round"/><path d="M187.8,2234.9C188.5,2235 190.6,2235.2 192.1,2235.4C193.5,2235.7 194.9,2236 196.3,2236.4C197.8,2236.7 199.2,2237.2 200.6,2237.6C202,2238.1 203.5,2238.6 204.9,2239C206.3,2239.5 207.7,2239.9 209.2,2240.3C210.6,2240.7 212,2241.1 213.4,2241.4C214.8,2241.7 216.3,2241.9 217.7,2242.1C219.1,2242.2 220.5,2242.2 222,2242.2C223.4,2242.1 224.8,2242 226.2,2241.8C227.7,2241.6 229.1,2241.2 230.5,2240.9C231.9,2240.5 233.4,2240.1 234.8,2239.7C236.2,2239.2 237.6,2238.7 239.1,2238.3C240.5,2237.8 241.9,2237.3 243.3,2236.9C244.7,2236.5 246.2,2236.1 247.6,2235.8C249,2235.5 250.4,2235.3 251.9,2235.1C253.3,2235 254.7,2234.9 256.1,2234.9C257.6,2234.9 259,2235 260.4,2235.2C261.8,2235.4 263.3,2235.7 264.7,2236.1C266.1,2236.4 267.5,2236.8 268.9,2237.2C270.4,2237.7 271.8,2238.2 273.2,2238.6C274.6,2239.1 276.1,2239.6 277.5,2240C278.9,2240.4 280.3,2240.8 281.8,2241.2C283.2,2241.5 284.6,2241.8 286,2241.9C287.5,2242.1 288.9,2242.2 290.3,2242.2C291.7,2242.2 293.1,2242.1 294.6,2241.9C296,2241.8 297.4,2241.5 298.8,2241.2C300.3,2240.9 301.7,2240.4 303.1,2240C304.5,2239.6 306,2239.1 307.4,2238.7C308.8,2238.2 310.2,2237.7 311.7,2237.3C313.1,2236.9 314.5,2236.4 315.9,2236.1C317.3,2235.7 318.8,2235.4 320.2,2235.3C321.6,2235.1 323,2234.9 324.5,2234.9C325.9,2234.9 327.3,2234.9 328.7,2235.1C330.2,2235.2 331.6,2235.5 333,2235.8C334.4,2236.1 335.9,2236.5 337.3,2236.9C338.7,2237.3 340.1,2237.8 341.6,2238.2C343,2238.7 344.4,2239.2 345.8,2239.6C347.2,2240.1 348.7,2240.5 350.1,2240.9C351.5,2241.2 352.9,2241.5 354.4,2241.8C355.8,2242 357.2,2242.1 358.6,2242.2C360.1,2242.2 361.5,2242.2 362.9,2242.1C364.3,2241.9 365.8,2241.7 367.2,2241.4C368.6,2241.1 370,2240.8 371.4,2240.4C372.9,2240 374.3,2239.5 375.7,2239C377.1,2238.6 378.6,2238.1 380,2237.6C381.4,2237.2 382.8,2236.8 384.3,2236.4C385.7,2236 387.1,2235.7 388.5,2235.4C390,2235.2 392.1,2235 392.8,2234.9" fill="none" stroke="#1f463d" stroke-width="7.2" stroke-linecap="butt" stroke-linejoin="round"/><path d="M187.8,2255.5 H392.8" fill="none" stroke="#1f463d" stroke-width="7.2" stroke-linecap="butt" stroke-linejoin="round"/><circle cx="220.5" cy="2221.5" r="5.8" fill="none" stroke="#1f463d" stroke-width="7.2"/><circle cx="255.1" cy="2215" r="8.1" fill="none" stroke="#1f463d" stroke-width="7.2"/><circle cx="290.6" cy="2221.5" r="5.8" fill="none" stroke="#1f463d" stroke-width="7.2"/><circle cx="326.9" cy="2215" r="8.1" fill="none" stroke="#1f463d" stroke-width="7.2"/><circle cx="359.5" cy="2221.5" r="5.8" fill="none" stroke="#1f463d" stroke-width="7.2"/><path d="M209.9,2067.8 V2095.8 M195.9,2081.9 H224.3" fill="none" stroke="#1f463d" stroke-width="7.2" stroke-linecap="round" stroke-linejoin="round"/><path d="M375.7,2132.1 V2150.2 M366.3,2141.1 H385" fill="none" stroke="#1f463d" stroke-width="7.2" stroke-linecap="round" stroke-linejoin="round"/><path d="M224.6,2133.5 L235.1,2114.5 Q239.5,2106.6 248.5,2106.6 L268.8,2106.6 Q277.8,2106.6 282.1,2114.5 L292.6,2133.5 Q296.9,2141.3 292.6,2149.2 L282.1,2168.2 Q277.8,2176.1 268.8,2176.1 L248.5,2176.1 Q239.5,2176.1 235.1,2168.2 L224.6,2149.2 Q220.3,2141.3 224.6,2133.5 Z" fill="none" stroke="#1f463d" stroke-width="7.2" stroke-linecap="round" stroke-linejoin="round"/><circle cx="243" cy="2127.8" r="3.8" fill="#1f463d"/><circle cx="243" cy="2141.3" r="3.8" fill="#1f463d"/><circle cx="243" cy="2154.7" r="3.8" fill="#1f463d"/><circle cx="258.6" cy="2127.8" r="3.8" fill="#1f463d"/><circle cx="258.6" cy="2141.3" r="3.8" fill="#1f463d"/><circle cx="258.6" cy="2154.7" r="3.8" fill="#1f463d"/><circle cx="274.1" cy="2127.8" r="3.8" fill="#1f463d"/><circle cx="274.1" cy="2141.3" r="3.8" fill="#1f463d"/><circle cx="274.1" cy="2154.7" r="3.8" fill="#1f463d"/><path d="M277.5,2087 L299,2087 Q305,2087 308,2092 L326,2117 Q328.5,2121.5 326,2126 L313.7,2150.2" fill="none" stroke="#1f463d" stroke-width="7.2" stroke-linecap="round" stroke-linejoin="round"/><path d="M291.8,2083.7 L296,2073 Q299,2067.8 305,2067.8 L335,2067.8 Q341,2067.8 344,2073 L358.5,2098 Q360.5,2102.6 358.5,2107 L344,2132 Q341,2137.4 335,2137.4 L325,2137.4" fill="none" stroke="#1f463d" stroke-width="7.2" stroke-linecap="round" stroke-linejoin="round"/><path d="M697,2101.3 Q733.9,2079.05 761.6,2097.4" fill="none" stroke="#1f463d" stroke-width="5.3" stroke-linecap="round" stroke-linejoin="round"/><path d="M780.9,2066.1 Q791.45,2097.8 784.2,2130.7" fill="none" stroke="#1f463d" stroke-width="5.3" stroke-linecap="round" stroke-linejoin="round"/><path d="M685.6,2116.3 Q682.45,2131.7 687.9,2153.5" fill="none" stroke="#1f463d" stroke-width="5.3" stroke-linecap="round" stroke-linejoin="round"/><path d="M702.9,2123.5 Q726.4,2141.35 755.1,2121.8" fill="none" stroke="#1f463d" stroke-width="5.3" stroke-linecap="round" stroke-linejoin="round"/><path d="M661.1,2174.4 Q678.8,2188 696.1,2174.8" fill="none" stroke="#1f463d" stroke-width="5.3" stroke-linecap="round" stroke-linejoin="round"/><path d="M661.1,2228.6 Q678.8,2241 694.8,2228.8" fill="none" stroke="#1f463d" stroke-width="5.3" stroke-linecap="round" stroke-linejoin="round"/><path d="M646.1,2210.9 C655,2206 662,2202.5 668.9,2202.5 C674,2202.5 677,2205 678.7,2206.2 C680.5,2205 683.5,2202.5 688.5,2202.5 C695,2202.5 703,2206 712.6,2210.9 C700,2216.5 690,2218.5 678.7,2218.5 C667,2218.5 657,2216.5 646.1,2210.9 Z" fill="none" stroke="#1f463d" stroke-width="5.3" stroke-linecap="round" stroke-linejoin="round"/><path d="M651,2211.5 C660,2214 670,2215 678.7,2215 C688,2215 698,2214 707,2211.5" fill="none" stroke="#1f463d" stroke-width="3.5" stroke-linecap="round" stroke-linejoin="round"/><path d="M646.1,2265.1C648.4,2266.2 655.3,2270 660,2271.5C664.7,2273 668.8,2274.4 674.1,2274.2C679.4,2273.9 686.3,2272.2 692,2270C697.7,2267.8 702.6,2264.8 708.1,2261.2C713.6,2257.6 719.8,2252.8 725,2248.5C730.2,2244.2 735.6,2239.2 739.4,2235.1C743.2,2231 745.2,2227.9 748,2224C750.8,2220.1 753.9,2215.9 756.4,2211.6C758.9,2207.3 760.8,2202.8 763,2198C765.2,2193.2 768.6,2185.5 769.7,2183" fill="none" stroke="#1f463d" stroke-width="5.3" stroke-linecap="round" stroke-linejoin="round"/><circle cx="768.8" cy="2140.1" r="3.7" fill="#1f463d"/><circle cx="795.8" cy="2143.7" r="3.9" fill="#1f463d"/><circle cx="719.6" cy="2158.1" r="3.9" fill="#1f463d"/><circle cx="755.1" cy="2153.1" r="2.6" fill="#1f463d"/><circle cx="785.1" cy="2169.8" r="3.9" fill="#1f463d"/><circle cx="735.2" cy="2195.3" r="3.7" fill="#1f463d"/><circle cx="747.5" cy="2201.8" r="2.6" fill="#1f463d"/><circle cx="775.7" cy="2214.5" r="5.9" fill="#1f463d"/><circle cx="794.5" cy="2214.9" r="2.9" fill="#1f463d"/><circle cx="786.4" cy="2232.5" r="3.9" fill="#1f463d"/><circle cx="751.1" cy="2179" r="5.9" fill="none" stroke="#1f463d" stroke-width="4.6"/><circle cx="809.9" cy="2186.1" r="5.9" fill="none" stroke="#1f463d" stroke-width="4.6"/><path d="M743.7,2163.1 A4.6,4.6 0 1 1 746.1,2154.3" fill="none" stroke="#1f463d" stroke-width="5.3" stroke-linecap="round" stroke-linejoin="round"/><path d="M772.5,2167 A5.9,5.9 0 1 1 779,2157.7" fill="none" stroke="#1f463d" stroke-width="5.3" stroke-linecap="round" stroke-linejoin="round"/><path d="M800.5,2168 A5.4,5.4 0 0 1 808.3,2161.5" fill="none" stroke="#1f463d" stroke-width="5.3" stroke-linecap="round" stroke-linejoin="round"/><path d="M726.9,2174.4 A4.2,4.2 0 0 1 733.2,2179.7" fill="none" stroke="#1f463d" stroke-width="5.3" stroke-linecap="round" stroke-linejoin="round"/><path d="M784.7,2187.3 A5.5,5.5 0 1 1 780.5,2194.6" fill="none" stroke="#1f463d" stroke-width="5.3" stroke-linecap="round" stroke-linejoin="round"/><path d="M1065.3,2178.5 Q1065.3,2161.5 1082.3,2161.5 L1162,2161.5 M1181,2161.5 L1260.9,2161.5 Q1277.9,2161.5 1277.9,2178.5 L1277.9,2255.9 Q1277.9,2272.9 1260.9,2272.9 L1082.3,2272.9 Q1065.3,2272.9 1065.3,2255.9 L1065.3,2178.5" fill="none" stroke="#1f463d" stroke-width="7.4" stroke-linecap="round" stroke-linejoin="round"/><path d="M1065.3,2191.2C1066.1,2191.3 1068.3,2191.6 1069.8,2191.9C1071.3,2192.2 1072.8,2192.6 1074.3,2193.1C1075.9,2193.5 1077.4,2194 1078.9,2194.5C1080.4,2194.9 1081.9,2195.5 1083.4,2195.9C1084.9,2196.4 1086.4,2196.8 1087.9,2197.2C1089.4,2197.6 1090.9,2197.9 1092.4,2198.1C1093.9,2198.4 1095.5,2198.5 1097,2198.6C1098.5,2198.6 1100,2198.6 1101.5,2198.5C1103,2198.3 1104.5,2198.1 1106,2197.8C1107.5,2197.5 1109,2197.1 1110.5,2196.7C1112,2196.3 1113.5,2195.8 1115.1,2195.3C1116.6,2194.8 1118.1,2194.3 1119.6,2193.8C1121.1,2193.4 1122.6,2192.9 1124.1,2192.5C1125.6,2192.1 1127.1,2191.8 1128.6,2191.5C1130.1,2191.3 1131.6,2191.1 1133.2,2191C1134.7,2191 1136.2,2191 1137.7,2191.1C1139.2,2191.2 1140.7,2191.4 1142.2,2191.7C1143.7,2192 1145.2,2192.4 1146.7,2192.8C1148.2,2193.2 1149.7,2193.7 1151.2,2194.2C1152.8,2194.6 1154.3,2195.2 1155.8,2195.6C1157.3,2196.1 1158.8,2196.6 1160.3,2197C1161.8,2197.4 1163.3,2197.7 1164.8,2198C1166.3,2198.2 1167.8,2198.4 1169.3,2198.5C1170.8,2198.6 1172.4,2198.6 1173.9,2198.5C1175.4,2198.4 1176.9,2198.2 1178.4,2198C1179.9,2197.7 1181.4,2197.3 1182.9,2196.9C1184.4,2196.5 1185.9,2196.1 1187.4,2195.6C1188.9,2195.1 1190.4,2194.6 1192,2194.1C1193.5,2193.7 1195,2193.2 1196.5,2192.8C1198,2192.4 1199.5,2192 1201,2191.7C1202.5,2191.4 1204,2191.2 1205.5,2191.1C1207,2191 1208.5,2191 1210,2191C1211.6,2191.1 1213.1,2191.3 1214.6,2191.6C1216.1,2191.8 1217.6,2192.2 1219.1,2192.5C1220.6,2192.9 1222.1,2193.4 1223.6,2193.9C1225.1,2194.3 1226.6,2194.9 1228.1,2195.3C1229.7,2195.8 1231.2,2196.3 1232.7,2196.7C1234.2,2197.1 1235.7,2197.5 1237.2,2197.8C1238.7,2198.1 1240.2,2198.3 1241.7,2198.5C1243.2,2198.6 1244.7,2198.6 1246.2,2198.6C1247.7,2198.5 1249.3,2198.4 1250.8,2198.1C1252.3,2197.9 1253.8,2197.6 1255.3,2197.2C1256.8,2196.8 1258.3,2196.3 1259.8,2195.9C1261.3,2195.4 1262.8,2194.9 1264.3,2194.4C1265.8,2193.9 1267.3,2193.4 1268.9,2193C1270.4,2192.6 1271.9,2192.2 1273.4,2191.9C1274.9,2191.6 1277.1,2191.3 1277.9,2191.2" fill="none" stroke="#1f463d" stroke-width="7.4" stroke-linecap="butt" stroke-linejoin="round"/><path d="M1065.3,2233.6C1066.1,2233.7 1068.3,2234 1069.8,2234.3C1071.3,2234.6 1072.8,2235 1074.3,2235.5C1075.9,2235.9 1077.4,2236.4 1078.9,2236.9C1080.4,2237.3 1081.9,2237.9 1083.4,2238.3C1084.9,2238.8 1086.4,2239.2 1087.9,2239.6C1089.4,2240 1090.9,2240.3 1092.4,2240.5C1093.9,2240.8 1095.5,2240.9 1097,2241C1098.5,2241 1100,2241 1101.5,2240.9C1103,2240.7 1104.5,2240.5 1106,2240.2C1107.5,2239.9 1109,2239.5 1110.5,2239.1C1112,2238.7 1113.5,2238.2 1115.1,2237.7C1116.6,2237.2 1118.1,2236.7 1119.6,2236.2C1121.1,2235.8 1122.6,2235.3 1124.1,2234.9C1125.6,2234.5 1127.1,2234.2 1128.6,2233.9C1130.1,2233.7 1131.6,2233.5 1133.2,2233.4C1134.7,2233.4 1136.2,2233.4 1137.7,2233.5C1139.2,2233.6 1140.7,2233.8 1142.2,2234.1C1143.7,2234.4 1145.2,2234.8 1146.7,2235.2C1148.2,2235.6 1149.7,2236.1 1151.2,2236.6C1152.8,2237 1154.3,2237.6 1155.8,2238C1157.3,2238.5 1158.8,2239 1160.3,2239.4C1161.8,2239.8 1163.3,2240.1 1164.8,2240.4C1166.3,2240.6 1167.8,2240.8 1169.3,2240.9C1170.8,2241 1172.4,2241 1173.9,2240.9C1175.4,2240.8 1176.9,2240.6 1178.4,2240.4C1179.9,2240.1 1181.4,2239.7 1182.9,2239.3C1184.4,2238.9 1185.9,2238.5 1187.4,2238C1188.9,2237.5 1190.4,2237 1192,2236.5C1193.5,2236.1 1195,2235.6 1196.5,2235.2C1198,2234.8 1199.5,2234.4 1201,2234.1C1202.5,2233.8 1204,2233.6 1205.5,2233.5C1207,2233.4 1208.5,2233.4 1210,2233.4C1211.6,2233.5 1213.1,2233.7 1214.6,2234C1216.1,2234.2 1217.6,2234.6 1219.1,2234.9C1220.6,2235.3 1222.1,2235.8 1223.6,2236.3C1225.1,2236.7 1226.6,2237.3 1228.1,2237.7C1229.7,2238.2 1231.2,2238.7 1232.7,2239.1C1234.2,2239.5 1235.7,2239.9 1237.2,2240.2C1238.7,2240.5 1240.2,2240.7 1241.7,2240.9C1243.2,2241 1244.7,2241 1246.2,2241C1247.7,2240.9 1249.3,2240.8 1250.8,2240.5C1252.3,2240.3 1253.8,2240 1255.3,2239.6C1256.8,2239.2 1258.3,2238.7 1259.8,2238.3C1261.3,2237.8 1262.8,2237.3 1264.3,2236.8C1265.8,2236.3 1267.3,2235.8 1268.9,2235.4C1270.4,2235 1271.9,2234.6 1273.4,2234.3C1274.9,2234 1277.1,2233.7 1277.9,2233.6" fill="none" stroke="#1f463d" stroke-width="7.4" stroke-linecap="butt" stroke-linejoin="round"/><path d="M1065.3,2254.5 H1277.9" fill="none" stroke="#1f463d" stroke-width="7.4" stroke-linecap="butt" stroke-linejoin="round"/><circle cx="1098.9" cy="2219.7" r="6" fill="none" stroke="#1f463d" stroke-width="7.4"/><circle cx="1135.2" cy="2212.6" r="8.3" fill="none" stroke="#1f463d" stroke-width="7.4"/><circle cx="1171.5" cy="2219.7" r="6" fill="none" stroke="#1f463d" stroke-width="7.4"/><circle cx="1209.5" cy="2212.6" r="8.3" fill="none" stroke="#1f463d" stroke-width="7.4"/><circle cx="1243" cy="2219.7" r="6" fill="none" stroke="#1f463d" stroke-width="7.4"/><path d="M1087.1,2161.5 L1087.1,2154 Q1087.1,2147.5 1094.1,2147.5 L1116,2147.5 Q1123,2147.5 1123,2154 L1123,2161.5" fill="none" stroke="#1f463d" stroke-width="7.4" stroke-linecap="round" stroke-linejoin="round"/><path d="M1220.8,2161.5 L1220.8,2154 Q1220.8,2147.5 1227.8,2147.5 L1249.9,2147.5 Q1256.9,2147.5 1256.9,2154 L1256.9,2161.5" fill="none" stroke="#1f463d" stroke-width="7.4" stroke-linecap="round" stroke-linejoin="round"/><path d="M1093.7,2163 Q1095.8,2170 1095.3,2174.2 Q1094,2180 1088.9,2184.7 M1097.3,2171 L1115.5,2181.5 M1108.3,2175.8 L1115.5,2171.8" fill="none" stroke="#1f463d" stroke-width="7.4" stroke-linecap="round" stroke-linejoin="round"/><path d="M1249.3,2163 Q1247.2,2170 1247.7,2174.2 Q1249,2180 1254.1,2184.7 M1245.7,2171 L1227.5,2181.5 M1234.7,2175.8 L1227.5,2171.8" fill="none" stroke="#1f463d" stroke-width="7.4" stroke-linecap="round" stroke-linejoin="round"/><path d="M1127,2123.5 A47.4,47.4 0 1 1 1216.2,2123.5 C1209.5,2147.7 1189.6,2157.6 1171.6,2169.6 C1153.6,2157.6 1133.7,2147.7 1127,2123.5 Z" fill="#fff" stroke="#1f463d" stroke-width="7.4" stroke-linejoin="round"/><circle cx="1171.4" cy="2107.6" r="33.1" fill="none" stroke="#1f463d" stroke-width="7.4"/><circle cx="1175.4" cy="2095.2" r="6.6" fill="none" stroke="#1f463d" stroke-width="7.4"/><circle cx="1156.4" cy="2100.5" r="4" fill="#1f463d"/><circle cx="1189" cy="2110.8" r="4" fill="#1f463d"/><circle cx="1172.8" cy="2114.6" r="4" fill="#1f463d"/><circle cx="1157" cy="2117.8" r="4" fill="#1f463d"/><circle cx="1174.8" cy="2128.3" r="4" fill="#1f463d"/><path d="M1084.5,2079.2 Q1090,2092.9 1103.7,2098.4 Q1090,2103.9 1084.5,2117.6 Q1079,2103.9 1065.3,2098.4 Q1079,2092.9 1084.5,2079.2 Z" fill="none" stroke="#1f463d" stroke-width="7.4" stroke-linecap="round" stroke-linejoin="round"/><path d="M1258,2079.2 Q1263.5,2092.9 1277.2,2098.4 Q1263.5,2103.9 1258,2117.6 Q1252.5,2103.9 1238.8,2098.4 Q1252.5,2092.9 1258,2079.2 Z" fill="none" stroke="#1f463d" stroke-width="7.4" stroke-linecap="round" stroke-linejoin="round"/><path d="M1604.5,2067.2 L1642.4,2067.2 L1659.8,2099.2 L1644,2128 L1604.5,2128 L1586.3,2099.2 Z" fill="none" stroke="#1f463d" stroke-width="5.6" stroke-linecap="round" stroke-linejoin="round"/><path d="M1586.3,2099.2 L1548.4,2099.9 L1530.3,2132.4 L1546.9,2164 L1583.2,2164 L1604.5,2128" fill="none" stroke="#1f463d" stroke-width="5.6" stroke-linecap="round" stroke-linejoin="round"/><path d="M1546.9,2164 L1528.7,2197.2 L1546.9,2229.6 L1584.8,2229.6 L1604.5,2197.2 L1583.2,2164" fill="none" stroke="#1f463d" stroke-width="5.6" stroke-linecap="round" stroke-linejoin="round"/><path d="M1584.8,2229.6 L1603.7,2261.9 L1642.4,2261.9 L1655,2240" fill="none" stroke="#1f463d" stroke-width="5.6" stroke-linecap="round" stroke-linejoin="round"/><path d="M1604.5,2197.2 L1635,2197.2" fill="none" stroke="#1f463d" stroke-width="5.6" stroke-linecap="round" stroke-linejoin="round"/><path d="M1644,2128 L1660,2158" fill="none" stroke="#1f463d" stroke-width="5.6" stroke-linecap="round" stroke-linejoin="round"/><path d="M1659.8,2099.2 L1698.5,2099.9 L1715.9,2132.4 L1698,2165" fill="none" stroke="#1f463d" stroke-width="5.6" stroke-linecap="round" stroke-linejoin="round"/><path d="M1643.2,2153.7 L1725.4,2153.7 A14.5,15.5 0 0 0 1739.6,2169.5 C1740.5,2212 1728,2252 1680.3,2273 C1632.5,2252 1628,2212 1629,2169.5 A14.5,15.5 0 0 0 1643.2,2153.7 Z" fill="#fff" stroke="#1f463d" stroke-width="5.6" stroke-linejoin="round"/><path d="M1654.3,2170.6 L1714.3,2170.6 A10,11 0 0 0 1723.8,2181.4 C1723.5,2215 1714,2238 1681,2256 C1648,2238 1644.5,2215 1644,2181.4 A10,11 0 0 0 1654.3,2170.6 Z" fill="none" stroke="#1f463d" stroke-width="5.6" stroke-linecap="round" stroke-linejoin="round"/><path d="M1664.5,2203.5 L1680.3,2219.3 L1703.2,2196.4" fill="none" stroke="#1f463d" stroke-width="5.6" stroke-linecap="round" stroke-linejoin="round"/>
</svg>
</body></html>
